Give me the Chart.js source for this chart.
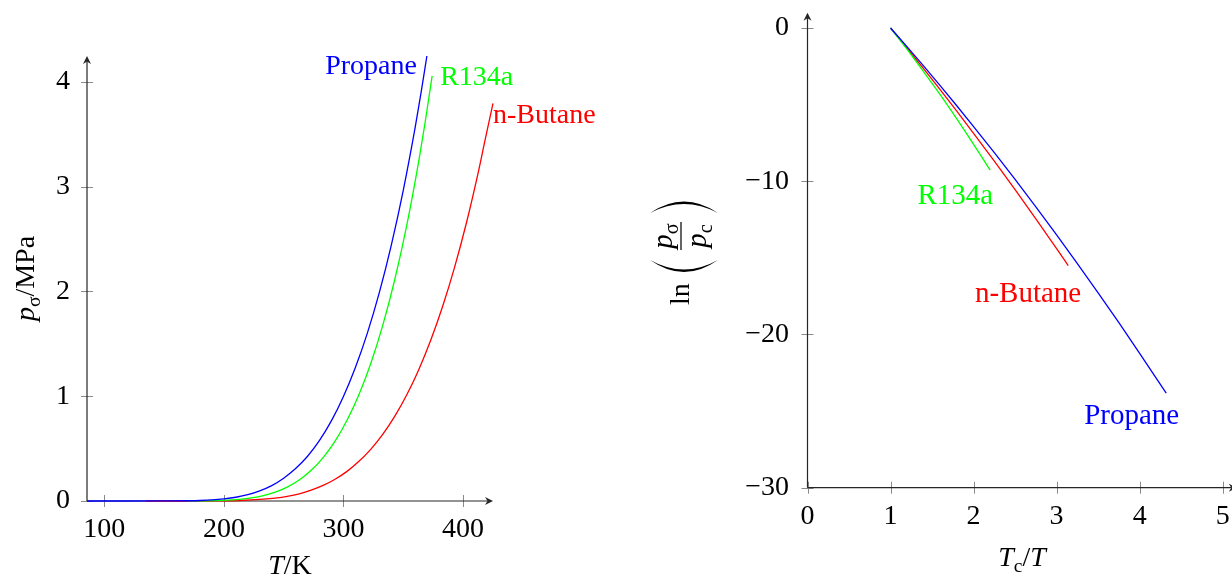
<!DOCTYPE html>
<html>
<head>
<meta charset="utf-8">
<script src="https://cdn.jsdelivr.net/npm/chart.js@4.4.1/dist/chart.umd.min.js"></script>
<style>
    html, body { margin: 0; padding: 0; background: #fff; overflow: hidden; width: 1232px; height: 577px; }
    #left { position: absolute; left: 0; top: 0; }
    #right { position: absolute; left: 616px; top: 0; }
</style>
</head>
<body>
<canvas id="left" width="616" height="577"></canvas>
<canvas id="right" width="640" height="577"></canvas>
<script>
const SERIF = '"Liberation Serif", "DejaVu Serif", serif';

// Left panel: saturation pressure (MPa) against temperature (K)
const propaneT = [85.5, 120, 150, 170, 180, 190, 200, 210, 220, 230, 240, 250, 260, 270, 280, 290, 300, 310, 320, 330, 340, 350, 360, 365, 369.8];
const propaneP = [0, 0.00001, 0.0003, 0.0022, 0.0049, 0.0102, 0.0202, 0.0357, 0.0602, 0.097, 0.147, 0.218, 0.31, 0.427, 0.578, 0.767, 0.998, 1.275, 1.603, 1.989, 2.441, 2.964, 3.567, 3.903, 4.248];
const r134aT = [169.9, 183, 193, 203, 213, 223, 233, 243, 253, 263, 273, 283, 293, 303, 313, 323, 333, 343, 353, 363, 368, 374.2];
const r134aP = [0.0004, 0.0015, 0.0037, 0.008, 0.0159, 0.0295, 0.0512, 0.0844, 0.1327, 0.2006, 0.2928, 0.4146, 0.5717, 0.7702, 1.0166, 1.3179, 1.6817, 2.1168, 2.6332, 3.2442, 3.59, 4.059];
const butaneT = [134.9, 173, 193, 213, 233, 243, 253, 263, 273, 283, 293, 303, 313, 323, 333, 343, 353, 363, 373, 383, 393, 403, 413, 418, 425.1];
const butaneP = [0, 0.0001, 0.001, 0.0048, 0.0174, 0.0282, 0.0448, 0.0688, 0.1035, 0.1485, 0.208, 0.283, 0.3785, 0.4957, 0.6384, 0.8098, 1.0136, 1.2537, 1.534, 1.8589, 2.233, 2.661, 3.15, 3.42, 3.796];

// Right panel: ln(p/pc) against Tc/T
const propaneX = [1, 1.2, 1.4, 1.6, 1.8, 2.0, 2.25, 2.5, 2.75, 3.0, 3.25, 3.5, 3.75, 4.0, 4.32];
const propaneL = [0, -1.23, -2.49, -3.78, -5.09, -6.43, -8.13, -9.88, -11.67, -13.5, -15.37, -17.28, -19.23, -21.23, -23.83];
const butaneX = [1, 1.2, 1.4, 1.6, 1.8, 2.0, 2.25, 2.5, 2.75, 3.0, 3.14];
const butaneL = [0, -1.32, -2.67, -4.04, -5.44, -6.87, -8.69, -10.55, -12.46, -14.4, -15.5];
const r134aX = [1, 1.1, 1.2, 1.3, 1.4, 1.5, 1.6, 1.7, 1.8, 1.9, 2.0, 2.1, 2.2];
const r134aL = [0, -0.69, -1.4, -2.12, -2.86, -3.61, -4.37, -5.15, -5.95, -6.76, -7.59, -8.43, -9.28];

// Tick labels
const leftXTicks = [100, 200, 300, 400];
const leftYTicks = [0, 1, 2, 3, 4];
const rightXTicks = [0, 1, 2, 3, 4, 5];
const rightYTicks = [-30, -20, -10, 0];

const BLUE = '#0000ff';
const GREEN = '#00ff00';
const RED = '#ff0000';

function toPoints(xs, ys) {
    return xs.map((x, i) => ({ x: x, y: ys[i] }));
}

function lineSet(label, xs, ys, color) {
    return {
        label: label,
        data: toPoints(xs, ys),
        borderColor: color,
        borderWidth: 1.3,
        pointRadius: 0,
        fill: false,
        cubicInterpolationMode: 'monotone',
        clip: 10
    };
}

function arrowHead(ctx, x, y, angle) {
    ctx.save();
    ctx.translate(x, y);
    ctx.rotate(angle);
    ctx.beginPath();
    ctx.moveTo(0, 0);
    ctx.lineTo(-8, -4);
    ctx.lineTo(-5.5, 0);
    ctx.lineTo(-8, 4);
    ctx.closePath();
    ctx.fill();
    ctx.restore();
}

// pgfplots-like axis lines with arrows and ticks crossing the axis
const pgfAxes = {
    id: 'pgfAxes',
    beforeDatasetsDraw(chart) {
        const ctx = chart.ctx;
        const a = chart.chartArea;
        const xs = chart.scales.x;
        const ys = chart.scales.y;
        ctx.save();
        ctx.strokeStyle = '#8a8a8a';
        ctx.lineWidth = 1;
        ctx.beginPath();
        xs.ticks.forEach(t => {
            const px = Math.round(xs.getPixelForValue(t.value)) + 0.5;
            ctx.moveTo(px, a.bottom - 6);
            ctx.lineTo(px, a.bottom + 6);
        });
        ys.ticks.forEach(t => {
            const py = Math.round(ys.getPixelForValue(t.value)) + 0.5;
            ctx.moveTo(a.left - 6, py);
            ctx.lineTo(a.left + 6, py);
        });
        ctx.stroke();

        ctx.strokeStyle = '#262626';
        ctx.fillStyle = '#262626';
        ctx.lineWidth = 1.2;
        ctx.beginPath();
        ctx.moveTo(a.left, a.bottom);
        ctx.lineTo(a.right - 5, a.bottom);
        ctx.moveTo(a.left, a.bottom);
        ctx.lineTo(a.left, a.top + 5);
        ctx.stroke();
        arrowHead(ctx, a.right, a.bottom, 0);
        arrowHead(ctx, a.left, a.top, -Math.PI / 2);
        ctx.restore();
    }
};

// text with italic and subscript parts
function partFont(p, size) {
    return (p.it ? 'italic ' : '') + (p.sub ? size * 0.7 : size) + 'px ' + SERIF;
}

function richWidth(ctx, parts, size) {
    let w = 0;
    parts.forEach(p => {
        ctx.font = partFont(p, size);
        w += ctx.measureText(p.t).width;
    });
    return w;
}

function drawRich(ctx, parts, x, y, size, color) {
    let cx = x - richWidth(ctx, parts, size) / 2;
    ctx.fillStyle = color || '#000';
    ctx.textAlign = 'left';
    ctx.textBaseline = 'alphabetic';
    parts.forEach(p => {
        ctx.font = partFont(p, size);
        ctx.fillText(p.t, cx, y + (p.sub ? size * 0.22 : 0));
        cx += ctx.measureText(p.t).width;
    });
}

// curve names placed next to the last point of each series
function curveLabels(items, size) {
    return {
        id: 'curveLabels',
        afterDatasetsDraw(chart) {
            const ctx = chart.ctx;
            ctx.save();
            ctx.font = size + 'px ' + SERIF;
            ctx.textBaseline = 'alphabetic';
            items.forEach(it => {
                const pts = chart.data.datasets[it.ds].data;
                const last = pts[pts.length - 1];
                const px = chart.scales.x.getPixelForValue(last.x);
                const py = chart.scales.y.getPixelForValue(last.y);
                ctx.fillStyle = it.color;
                ctx.textAlign = it.align;
                ctx.fillText(it.text, px + it.dx, py + it.dy);
            });
            ctx.restore();
        }
    };
}

function axisTitles(draw) {
    return { id: 'axisTitles', afterDraw(chart) { chart.ctx.save(); draw(chart.ctx, chart); chart.ctx.restore(); } };
}

function baseOptions(padding) {
    return {
        responsive: false,
        animation: false,
        devicePixelRatio: 1,
        layout: { padding: padding },
        plugins: { legend: { display: false }, tooltip: { enabled: false } }
    };
}

function axisOptions(min, max, ticks, pad, size, fmt) {
    return {
        type: 'linear',
        min: min,
        max: max,
        grid: { display: false, drawTicks: false },
        border: { display: false },
        afterBuildTicks: s => { s.ticks = ticks.map(v => ({ value: v })); },
        afterFit: s => {
            // fixed axis size, no extra room for overhanging labels
            if (s.isHorizontal()) s.height = size; else s.width = size;
            s.paddingTop = 0;
            s.paddingBottom = 0;
            s.paddingLeft = 0;
            s.paddingRight = 0;
        },
        ticks: {
            font: { family: SERIF, size: 28 },
            color: '#000',
            padding: pad,
            maxRotation: 0,
            autoSkip: false,
            callback: fmt || (v => String(v))
        }
    };
}

// Left chart
const leftOptions = baseOptions({ left: 0, right: 123, top: 56, bottom: 0 });
leftOptions.scales = {
    x: axisOptions(85.5, 425.1, leftXTicks, 12, 76),
    y: axisOptions(0, 4.248, leftYTicks, 17, 87)
};

new Chart(document.getElementById('left'), {
    type: 'line',
    data: {
        datasets: [
            lineSet('Propane', propaneT, propaneP, BLUE),
            lineSet('R134a', r134aT, r134aP, GREEN),
            lineSet('n-Butane', butaneT, butaneP, RED)
        ]
    },
    options: leftOptions,
    plugins: [
        pgfAxes,
        curveLabels([
            { text: 'Propane', ds: 0, color: BLUE, align: 'right', dx: -10, dy: 18 },
            { text: 'R134a', ds: 1, color: GREEN, align: 'left', dx: 8, dy: 9 },
            { text: 'n-Butane', ds: 2, color: RED, align: 'left', dx: 0, dy: 20 }
        ], 28),
        axisTitles((ctx, chart) => {
            const a = chart.chartArea;
            drawRich(ctx, [{ t: 'T', it: true }, { t: '/K' }], (a.left + a.right) / 2, 574, 28);
            ctx.translate(34, (a.top + a.bottom) / 2);
            ctx.rotate(-Math.PI / 2);
            drawRich(ctx, [{ t: 'p', it: true }, { t: 'σ', sub: true }, { t: '/MPa' }], 0, 0, 28);
        })
    ]
});

// Right chart
const rightOptions = baseOptions({ left: 0, right: 19.2, top: 12.7, bottom: 0 });
rightOptions.scales = {
    x: axisOptions(0, 5.17, rightXTicks, 12.5, 89.3),
    y: axisOptions(-30, 1, rightYTicks, 18.5, 191.5,
        v => (v < 0 ? '\u2212' + Math.abs(v) : String(v)))
};

function drawLnTitle(ctx) {
    // frame rotated so the text reads upward; u along text, v across it
    ctx.translate(681 - 616, 236);
    ctx.rotate(-Math.PI / 2);
    ctx.fillStyle = '#000';
    ctx.textAlign = 'left';
    ctx.textBaseline = 'alphabetic';
    ctx.font = '28px ' + SERIF;
    ctx.fillText('ln', -69, 8);

    // big parentheses
    ctx.beginPath();
    ctx.moveTo(-24, -31);
    ctx.quadraticCurveTo(-48, 3, -24, 37);
    ctx.quadraticCurveTo(-43, 3, -24, -31);
    ctx.fill();
    ctx.beginPath();
    ctx.moveTo(23, -31);
    ctx.quadraticCurveTo(46, 3, 23, 37);
    ctx.quadraticCurveTo(41, 3, 23, -31);
    ctx.fill();

    // fraction
    ctx.fillRect(-14, -0.6, 28, 1.2);
    drawRich(ctx, [{ t: 'p', it: true }, { t: 'σ', sub: true }], 0, -9, 29);
    drawRich(ctx, [{ t: 'p', it: true }, { t: 'c', sub: true }], 0, 25, 29);
}

new Chart(document.getElementById('right'), {
    type: 'line',
    data: {
        datasets: [
            lineSet('Propane', propaneX, propaneL, BLUE),
            lineSet('R134a', r134aX, r134aL, GREEN),
            lineSet('n-Butane', butaneX, butaneL, RED)
        ]
    },
    options: rightOptions,
    plugins: [
        pgfAxes,
        curveLabels([
            { text: 'Propane', ds: 0, color: BLUE, align: 'right', dx: 13, dy: 31 },
            { text: 'R134a', ds: 1, color: GREEN, align: 'right', dx: 3, dy: 34 },
            { text: 'n-Butane', ds: 2, color: RED, align: 'right', dx: 13, dy: 36 }
        ], 29),
        axisTitles((ctx, chart) => {
            drawRich(ctx, [{ t: 'T', it: true }, { t: 'c', sub: true }, { t: '/' }, { t: 'T', it: true }], 1022 - 616, 566, 28);
            drawLnTitle(ctx);
        })
    ]
});
</script>
</body>
</html>
